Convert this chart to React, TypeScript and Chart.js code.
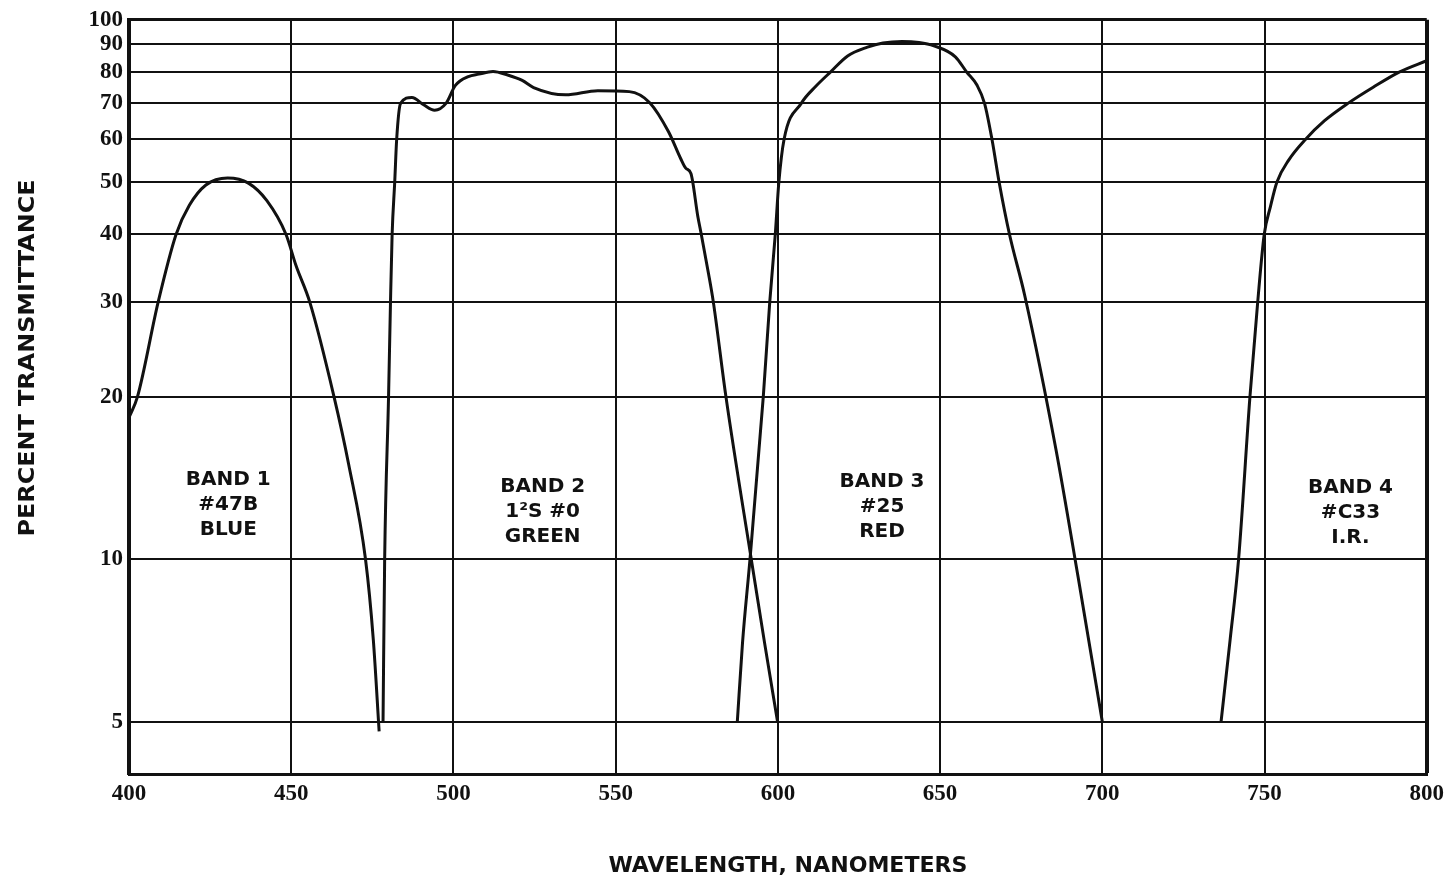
import { useEffect, useRef } from 'react';
import { Chart, registerables } from 'chart.js';

Chart.register(...registerables);

// Axis ticks
const wavelengthTicks = [400, 450, 500, 550, 600, 650, 700, 750, 800];
const transmittanceTicks = [5, 10, 20, 30, 40, 50, 60, 70, 80, 90, 100];

// Band 1 (#47B blue) — wavelength (nm) and percent transmittance
const band1Nm = [400, 402.6, 409.0, 414.5, 418.6, 423.7, 430.4, 436.8, 442.5, 448.4, 451.5, 455.7, 463.2, 467.7, 472.9, 475.3, 477.1];
const band1T = [18.3, 20, 30, 40, 45.3, 49.4, 50.9, 49.8, 46.2, 40, 35, 30, 20, 15, 10, 7.1, 4.8];

// Band 2 (green)
const band2Nm = [478.3, 478.8, 480.0, 480.6, 481.1, 481.9, 482.5, 483.7, 487.2, 490.8, 494.2, 497.7, 500.6, 504.6, 507.8, 512.2, 516.7, 521.2, 524.7, 534.6, 544.5, 554.2, 560.5, 566.3, 570.1, 571.6, 573.2, 575.3, 576.4, 578.6, 580.1, 584.0, 591.8, 595.9, 599.9];
const band2T = [5, 10, 20, 30, 40, 50, 60, 70, 71.8, 69.6, 68, 70, 75.6, 78.5, 79.3, 80.2, 79, 77.2, 74.9, 72.6, 73.9, 73.6, 70.2, 62, 55.2, 53.1, 51.9, 43.3, 40, 33.9, 30, 20, 10, 7, 5];

// Band 3 (#25 red)
const band3Nm = [587.5, 589.1, 591.4, 595.5, 597.5, 599.2, 600.3, 601.9, 607.2, 611.7, 616.2, 621.5, 627.6, 632.4, 638.3, 643.5, 648.1, 654.7, 658.2, 661.4, 663.7, 666.0, 668.2, 671.4, 676.0, 685.7, 692.5, 700.0];
const band3T = [5, 7, 10, 20, 30, 40, 50, 60, 70, 75.3, 80, 85.7, 89, 90.6, 91.2, 90.8, 89.5, 85.4, 80, 75.6, 70, 60, 50, 40, 31, 16, 9.3, 5];

// Band 4 (infrared)
const band4Nm = [736.6, 739.4, 742.0, 745.5, 747.9, 749.9, 751.8, 753.8, 757.5, 762.6, 768.5, 775.7, 783.5, 791.5, 800];
const band4T = [5, 7.1, 10, 20, 30, 40, 45, 50, 55, 60, 65, 70, 75, 80, 84];

// Band captions, anchored at (wavelength, transmittance) of their middle line
const bandNames = ['BAND 1', 'BAND 2', 'BAND 3', 'BAND 4'];
const bandFilters = ['#47B', '1\u00B2S #0', '#25', '#C33'];
const bandColours = ['BLUE', 'GREEN', 'RED', 'I.R.'];
const bandLabelNm = [430.6, 527.5, 632.1, 776.5];
const bandLabelT = [12.6, 12.25, 12.5, 12.2];

const xTitle = 'WAVELENGTH, NANOMETERS';
const yTitle = 'PERCENT TRANSMITTANCE';

const INK = '#111';
const LABEL_FONT = 'bold 20px "DejaVu Sans"';
const TITLE_FONT = 'bold 22px "DejaVu Sans"';
const LINE_GAP = 25;

const toPoints = (nm: number[], t: number[]) => nm.map((v, i) => ({ x: v, y: t[i] }));

// draws text centred at (cx, cy), stretched or squeezed to a given width
function drawFitted(ctx: CanvasRenderingContext2D, text: string, cx: number, cy: number, width: number, angle: number) {
  ctx.save();
  ctx.translate(cx, cy);
  ctx.rotate(angle);
  const measured = ctx.measureText(text).width;
  ctx.scale(width / measured, 1);
  ctx.fillText(text, 0, 0);
  ctx.restore();
}

const captionPlugin = {
  id: 'bandCaptions',
  afterDatasetsDraw(chart: any) {
    const { ctx, scales } = chart;
    const x = scales.x;
    const y = scales.y;
    ctx.save();
    ctx.fillStyle = INK;
    ctx.textAlign = 'center';
    ctx.textBaseline = 'middle';
    ctx.font = LABEL_FONT;
    bandNames.forEach((name, i) => {
      const cx = x.getPixelForValue(bandLabelNm[i]);
      const cy = y.getPixelForValue(bandLabelT[i]);
      [name, bandFilters[i], bandColours[i]].forEach((line, k) => {
        ctx.fillText(line, cx, cy + (k - 1) * LINE_GAP);
      });
    });
    ctx.font = TITLE_FONT;
    drawFitted(ctx, xTitle, 788, 866, 359, 0);
    drawFitted(ctx, yTitle, 28, 358, 357, -Math.PI / 2);
    ctx.restore();
  },
};

export default function App() {
  const canvasRef = useRef<HTMLCanvasElement>(null);

  useEffect(() => {
    const canvas = canvasRef.current;
    if (!canvas) return;
    const lineStyle = {
      borderColor: INK,
      borderWidth: 3,
      pointRadius: 0,
      fill: false,
      cubicInterpolationMode: 'monotone' as const,
    };
    const tickFont = { family: '"Liberation Serif"', size: 23, weight: 'bold' as const };

    const chart = new Chart(canvas, {
      type: 'line',
      data: {
        datasets: [
          { label: 'Band 1', data: toPoints(band1Nm, band1T), ...lineStyle },
          { label: 'Band 2', data: toPoints(band2Nm, band2T), ...lineStyle },
          { label: 'Band 3', data: toPoints(band3Nm, band3T), ...lineStyle },
          { label: 'Band 4', data: toPoints(band4Nm, band4T), ...lineStyle },
        ],
      },
      options: {
        responsive: false,
        animation: false,
        devicePixelRatio: 1,
        layout: { padding: { left: 0, right: 20, top: 18, bottom: 0 } },
        plugins: {
          legend: { display: false },
          tooltip: { enabled: false },
        },
        scales: {
          x: {
            type: 'linear',
            min: 400,
            max: 800,
            afterBuildTicks: (scale: any) => {
              scale.ticks = wavelengthTicks.map((v) => ({ value: v }));
            },
            afterFit: (scale: any) => {
              scale.height = 113;
            },
            grid: {
              color: INK,
              lineWidth: (c: any) => (c.tick && c.tick.value === 800 ? 4 : 2),
              drawTicks: false,
            },
            border: { display: true, color: INK, width: 3 },
            ticks: {
              color: INK,
              font: tickFont,
              padding: 6,
              maxRotation: 0,
              autoSkip: false,
              callback: (v: any) => String(v),
            },
          },
          y: {
            type: 'logarithmic',
            min: 4,
            max: 100,
            afterBuildTicks: (scale: any) => {
              scale.ticks = transmittanceTicks.map((v) => ({ value: v }));
            },
            afterFit: (scale: any) => {
              scale.width = 129;
            },
            grid: {
              color: INK,
              lineWidth: (c: any) => (c.tick && c.tick.value === 100 ? 3 : 2),
              drawTicks: false,
            },
            border: { display: true, color: INK, width: 4 },
            ticks: {
              color: INK,
              font: tickFont,
              padding: 6,
              autoSkip: false,
              callback: (v: any) => String(v),
            },
          },
        },
      },
      plugins: [captionPlugin],
    });

    return () => chart.destroy();
  }, []);

  return (
    <div style={{ position: 'absolute', left: 0, top: 0, width: 1450, height: 887, background: '#fff' }}>
      <canvas ref={canvasRef} width={1450} height={887} style={{ display: 'block' }} />
    </div>
  );
}
